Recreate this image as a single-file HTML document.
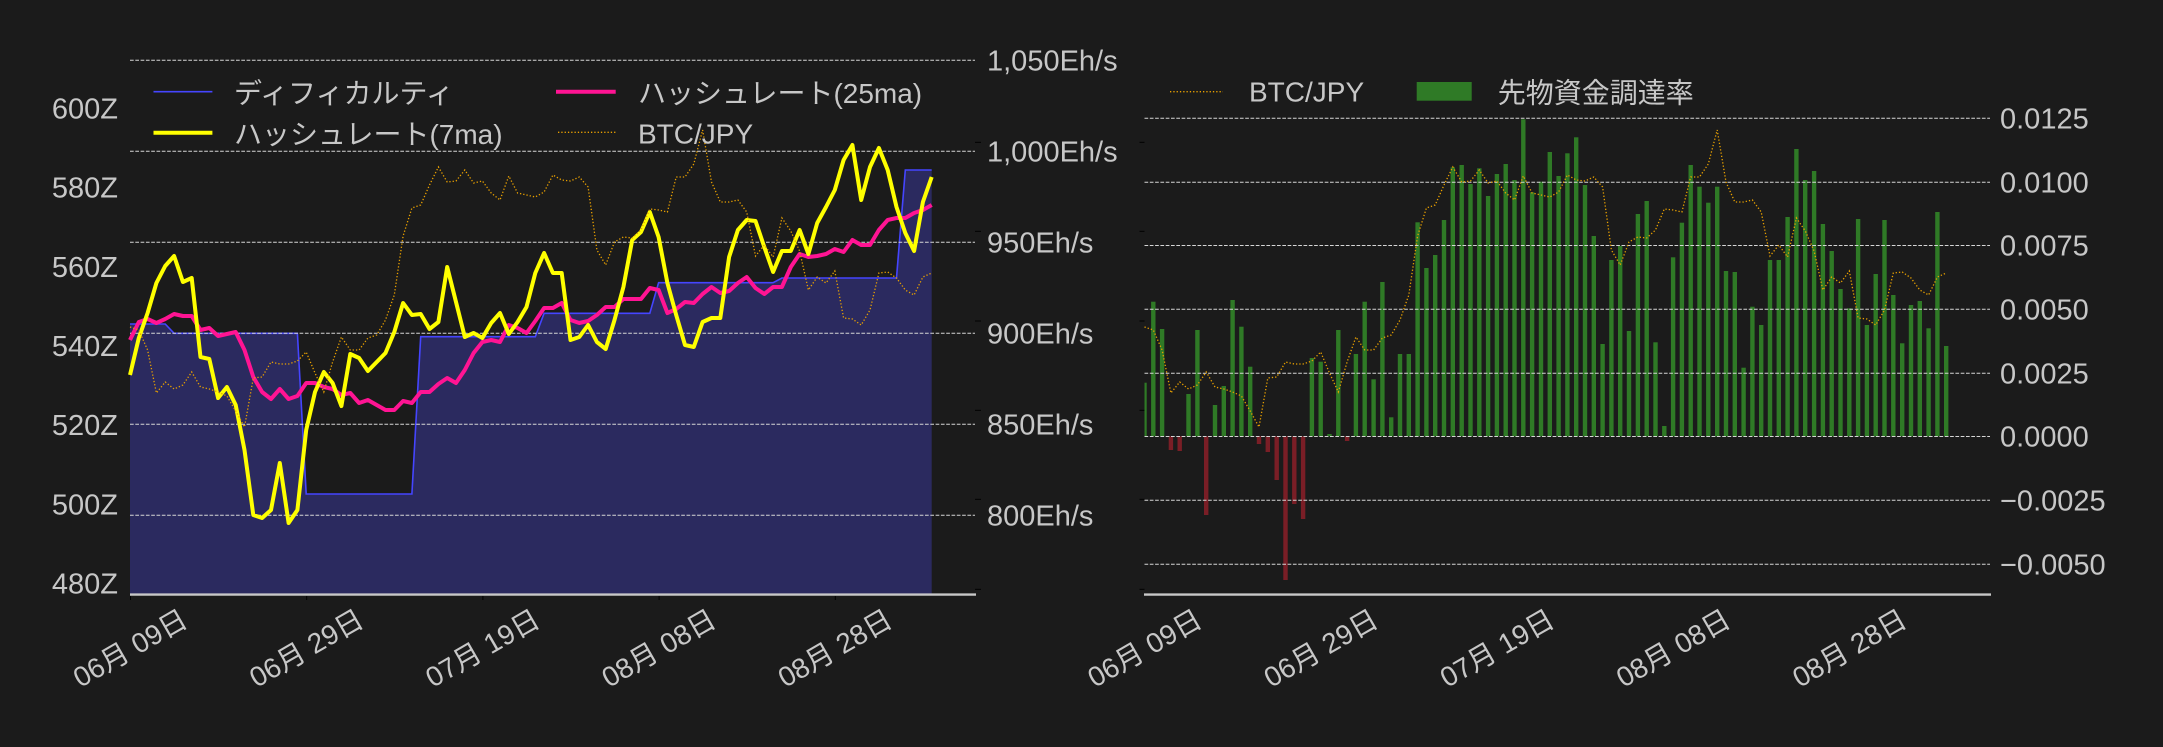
<!DOCTYPE html>
<html><head><meta charset="utf-8">
<style>html,body{margin:0;padding:0;background:#1b1b1b;}svg{display:block}</style>
</head><body>
<svg id="s" width="2163" height="747" viewBox="0 0 2163 747" xmlns="http://www.w3.org/2000/svg" font-family="'Liberation Sans','Noto Sans CJK JP',sans-serif">
<defs><clipPath id="cr"><rect x="1144.5" y="0" width="847" height="600"/></clipPath></defs>
<rect width="2163" height="747" fill="#1b1b1b"/>
<g id="L"></g>
<g id="R"></g>
<g fill="#c7c7c7" font-size="29">
<text x="118" y="118.5" text-anchor="end">600Z</text>
<text x="118" y="197.7" text-anchor="end">580Z</text>
<text x="118" y="276.8" text-anchor="end">560Z</text>
<text x="118" y="356" text-anchor="end">540Z</text>
<text x="118" y="435.2" text-anchor="end">520Z</text>
<text x="118" y="514.3" text-anchor="end">500Z</text>
<text x="118" y="593.5" text-anchor="end">480Z</text>
<text x="987" y="70.5">1,050Eh/s</text>
<text x="987" y="161.5">1,000Eh/s</text>
<text x="987" y="252.5">950Eh/s</text>
<text x="987" y="343.5">900Eh/s</text>
<text x="987" y="434.5">850Eh/s</text>
<text x="987" y="525.5">800Eh/s</text>
<text x="2000" y="128.5">0.0125</text>
<text x="2000" y="192.5">0.0100</text>
<text x="2000" y="255.5">0.0075</text>
<text x="2000" y="319.5">0.0050</text>
<text x="2000" y="383.5">0.0025</text>
<text x="2000" y="446.5">0.0000</text>
<text x="2000" y="510.5">−0.0025</text>
<text x="2000" y="574.5">−0.0050</text>
</g>
<line x1="153.5" y1="91.7" x2="212.4" y2="91.7" stroke="#4545ff" stroke-width="1.6"/>
<line x1="153.5" y1="132.7" x2="212.4" y2="132.7" stroke="#ffff00" stroke-width="4"/>
<line x1="556" y1="91.7" x2="615.7" y2="91.7" stroke="#ff1493" stroke-width="4"/>
<line x1="558" y1="132.3" x2="615.7" y2="132.3" stroke="#e8a000" stroke-width="1.3" stroke-dasharray="1.3 2"/>
<line x1="1170" y1="91.7" x2="1223" y2="91.7" stroke="#e8a000" stroke-width="1.3" stroke-dasharray="1.3 2"/>
<rect x="1416.7" y="82" width="55" height="18.7" fill="#2f7a26"/>
<g fill="#c7c7c7" font-size="28">
<text x="234" y="103">ディフィカルティ</text>
<text x="234" y="144">ハッシュレート(7ma)</text>
<text x="638" y="103">ハッシュレート(25ma)</text>
<text x="638" y="143.5">BTC/JPY</text>
<text x="1249" y="101.5">BTC/JPY</text>
<text x="1497.7" y="102.5">先物資金調達率</text>
</g>
<g fill="#c7c7c7" font-size="28" text-anchor="middle">
<text x="130" y="658" transform="rotate(-30 130 648)">06月 09日</text>
<text x="306.2" y="658" transform="rotate(-30 306.2 648)">06月 29日</text>
<text x="482.4" y="658" transform="rotate(-30 482.4 648)">07月 19日</text>
<text x="658.6" y="658" transform="rotate(-30 658.6 648)">08月 08日</text>
<text x="834.8" y="658" transform="rotate(-30 834.8 648)">08月 28日</text>
<text x="1144.5" y="658" transform="rotate(-30 1144.5 648)">06月 09日</text>
<text x="1320.7" y="658" transform="rotate(-30 1320.7 648)">06月 29日</text>
<text x="1496.9" y="658" transform="rotate(-30 1496.9 648)">07月 19日</text>
<text x="1673.1" y="658" transform="rotate(-30 1673.1 648)">08月 08日</text>
<text x="1849.3" y="658" transform="rotate(-30 1849.3 648)">08月 28日</text>
</g>
</svg>
<script>
(function(){
var NS="http://www.w3.org/2000/svg";
function el(p,t,a){var e=document.createElementNS(NS,t);for(var k in a)e.setAttribute(k,a[k]);p.appendChild(e);return e;}
var L=document.getElementById("L"),R=document.getElementById("R");
var Y=[375,338,313,283,266,256,282,278,357,359,398,387,405,450,515,518,510,463,523,510,430,392,372,383,406,354,358,371,362,353,332,303,315,314,329,322,267,302,337,333,338,323,313,334,322,307,273,253,273,273,340,337,325,342,349,320,287,240,232,212,237,283,315,345,347,322,318,318,257,230,220,221,247,272,251,251,230,254,223,207,190,160,145,200,167,148,170,207,233,251,202,177];
var P=[340,322,319,323,319,314,316,316,330,328,336,334,332,350,377,392,399,389,399,396,383,383,387,389,395,393,403,400,405,410,410,401,403,392,392,384,378,383,370,353,342,340,342,325,328,333,321,308,308,303,320,323,321,315,307,307,299,299,299,288,290,313,309,302,303,294,287,293,291,283,277,288,294,287,287,267,254,257,256,254,249,252,240,245,245,230,220,218,218,213,210,205];
var O=[327,330,350,393,382,389,385,372,387,389,392,396,411,427,378,377,362,364,364,361,352,373,392,362,337,350,350,338,335,320,295,236,208,205,185,167,182,181,170,183,181,193,200,176,193,195,197,192,175,180,181,177,187,250,265,242,237,238,230,209,210,212,177,177,164,130,182,202,202,200,212,256,245,257,218,231,251,290,277,283,271,318,319,325,310,273,272,278,290,295,277,273];
var B=[382.7,301.7,329,450,451,394,330,515,405,386,300,326.7,366.7,444,452,480,580,504,519,358,361.7,434,330,441,354,301.7,379.3,282,417.3,354,354,222.3,268,255,220,167.3,165,184,168.3,196,174,164,180,119.3,192.3,181.7,152,176,153.3,137.3,185,236,344,260,246,331,214,201,342.3,426,257.3,222.7,165,186.7,202.7,186.7,271,272,367.7,306.7,325,260,260,217,149,180,171,224,251,289,308.3,219,325,274,220,295,343.3,305,301,328.3,212,346];
var D=8.81;
function pts(a,x0){var s=[];for(var i=0;i<a.length;i++)s.push((x0+D*i).toFixed(1)+","+a[i]);return s.join(" ");}
var diff="130,324 165.2,324 174.1,333.3 297.4,333.3 306.2,494 411.9,494 420.7,336.7 535.3,336.7 544.1,313.3 649.8,313.3 658.6,282.7 773.1,282.7 781.9,278 896.5,278 905.3,170 931.7,170";
el(L,"polygon",{fill:"#2b2a5f",points:diff+" 931.7,594 130,594"});
el(L,"polyline",{fill:"none",stroke:"#4545ff","stroke-width":1.6,points:diff});
var g=el(L,"g",{stroke:"#d6d6d6","stroke-width":1,"stroke-dasharray":"3.7 1.6"});
for(var k=0;k<6;k++){var y=60.3+91*k;el(g,"line",{x1:130,y1:y,x2:975,y2:y});}
el(L,"polyline",{fill:"none",stroke:"#ff1493","stroke-width":4,"stroke-linejoin":"round",points:pts(P,130)});
el(L,"polyline",{fill:"none",stroke:"#ffff00","stroke-width":4,"stroke-linejoin":"round",points:pts(Y,130)});
el(L,"polyline",{fill:"none",stroke:"#e8a000","stroke-width":1.3,"stroke-dasharray":"1.3 2",points:pts(O,130)});
el(L,"line",{x1:130,y1:594.6,x2:976,y2:594.6,stroke:"#c8c8c8","stroke-width":2.4});
var tk=el(L,"g",{stroke:"#000","stroke-width":1});
var bt=[142.3,231.3,321,410.3,499.3,589.3];
for(k=0;k<5;k++){var x=130.5+176.2*k;el(tk,"line",{x1:x,y1:596,x2:x,y2:600});}
for(k=0;k<6;k++){el(tk,"line",{x1:975,y1:bt[k],x2:981,y2:bt[k]});el(tk,"line",{x1:1139.5,y1:bt[k],x2:1144.5,y2:bt[k]});}
var bars=el(R,"g",{"clip-path":"url(#cr)"});
for(var i=0;i<B.length;i++){var bx=1144.5+D*i-2.2,t=B[i];
 if(t<436.3)el(bars,"rect",{x:bx.toFixed(1),y:t,width:4.4,height:(436.3-t).toFixed(1),fill:"#2f7a26"});
 else el(bars,"rect",{x:bx.toFixed(1),y:436.3,width:4.4,height:(t-436.3).toFixed(1),fill:"#7a1e26"});}
var g2=el(R,"g",{stroke:"#d6d6d6","stroke-width":1,"stroke-dasharray":"3.7 1.6"});
var gy=[118.3,182.3,245.5,309.3,373.3,436.5,500.3,564.3];
for(k=0;k<8;k++)el(g2,"line",{x1:1144.5,y1:gy[k],x2:1990,y2:gy[k]});
el(R,"polyline",{fill:"none",stroke:"#e8a000","stroke-width":1.3,"stroke-dasharray":"1.3 2",points:pts(O,1144.5)});
el(R,"line",{x1:1144,y1:594.6,x2:1991,y2:594.6,stroke:"#c8c8c8","stroke-width":2.4});
})();
</script>
</body></html>
